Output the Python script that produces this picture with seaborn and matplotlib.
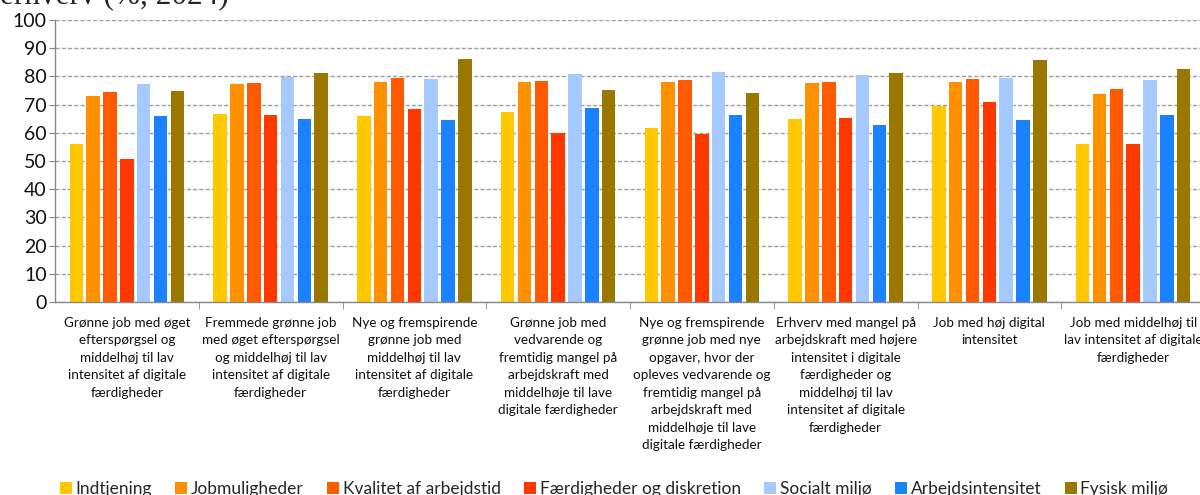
import pandas as pd
import matplotlib
matplotlib.use("Agg")
import matplotlib.pyplot as plt
import seaborn as sns

# Kategorier (erhverv)
categories = [
    "Grønne job med øget\nefterspørgsel og\nmiddelhøj til lav\nintensitet af digitale\nfærdigheder",
    "Fremmede grønne job\nmed øget efterspørgsel\nog middelhøj til lav\nintensitet af digitale\nfærdigheder",
    "Nye og fremspirende\ngrønne job med\nmiddelhøj til lav\nintensitet af digitale\nfærdigheder",
    "Grønne job med\nvedvarende og\nfremtidig mangel på\narbejdskraft med\nmiddelhøje til lave\ndigitale færdigheder",
    "Nye og fremspirende\ngrønne job med nye\nopgaver, hvor der\nopleves vedvarende og\nfremtidig mangel på\narbejdskraft med\nmiddelhøje til lave\ndigitale færdigheder",
    "Erhverv med mangel på\narbejdskraft med højere\nintensitet i digitale\nfærdigheder og\nmiddelhøj til lav\nintensitet af digitale\nfærdigheder",
    "Job med høj digital\nintensitet",
    "Job med middelhøj til\nlav intensitet af digitale\nfærdigheder",
]

# Serier
indtjening = [56.1, 66.6, 65.8, 67.3, 61.6, 65.0, 69.6, 56.2]
jobmuligheder = [73.0, 77.4, 78.1, 78.0, 78.1, 77.5, 78.1, 73.9]
kvalitet = [74.6, 77.8, 79.3, 78.5, 78.6, 77.9, 79.1, 75.4]
faerdigheder = [50.7, 66.4, 68.3, 59.9, 59.5, 65.4, 70.9, 56.1]
socialt = [77.4, 79.8, 79.1, 80.7, 81.7, 80.4, 79.3, 78.8]
arbejdsintensitet = [65.8, 64.9, 64.7, 68.8, 66.4, 62.7, 64.6, 66.4]
fysisk = [74.8, 81.1, 86.1, 75.2, 74.1, 81.2, 85.8, 82.5]

series_names = ["Indtjening", "Jobmuligheder", "Kvalitet af arbejdstid",
                "Færdigheder og diskretion", "Socialt miljø",
                "Arbejdsintensitet", "Fysisk miljø"]
series_values = [indtjening, jobmuligheder, kvalitet, faerdigheder,
                 socialt, arbejdsintensitet, fysisk]
colors = ["#FFC800", "#FF9000", "#FF5A00", "#FF3800",
          "#A6CAFF", "#1A82FF", "#9A7800"]

rows = []
for name, vals in zip(series_names, series_values):
    for cat, v in zip(categories, vals):
        rows.append({"Erhverv": cat, "Serie": name, "Andel": v})
df = pd.DataFrame(rows)

sns.set_style("white")
plt.rcParams["font.family"] = ["Lato", "DejaVu Sans"]

fig = plt.figure(figsize=(12, 4.95), dpi=100)
ax = fig.add_axes([55 / 1200, 1 - 302 / 495, 1150 / 1200, 282 / 495])

sns.barplot(data=df, x="Erhverv", y="Andel", hue="Serie",
            hue_order=series_names, order=categories,
            palette=colors, width=0.82, gap=0.2, linewidth=0,
            saturation=1, ax=ax)

ax.set_xlim(-0.5, 7.5)
ax.set_ylim(0, 100)
ax.set_yticks(range(0, 101, 10))
ax.set_xlabel("")
ax.set_ylabel("")

ax.grid(axis="y", color="#a0a0a0", linestyle=(0, (3, 1.5)), linewidth=1)
ax.set_axisbelow(True)
for side in ["top", "right"]:
    ax.spines[side].set_visible(False)
for side in ["left", "bottom"]:
    ax.spines[side].set_color("#888888")
    ax.spines[side].set_linewidth(1)

ax.tick_params(axis="y", labelsize=14, length=4, color="#888888",
               left=True, pad=2, labelcolor="#111111")
ax.tick_params(axis="x", which="major", length=0, pad=10.5,
               labelsize=9.7, labelcolor="#111111")
ax.set_xticks([i - 0.5 for i in range(1, 8)], minor=True)
ax.tick_params(axis="x", which="minor", length=5, color="#888888",
               bottom=True)
for lbl in ax.get_xticklabels():
    lbl.set_linespacing(1.55)
    lbl.set_verticalalignment("top")

leg = ax.legend(loc="center", bbox_to_anchor=(614 / 1200, 1 - 489 / 495),
                bbox_transform=fig.transFigure, ncol=7, frameon=False,
                fontsize=12.5, handlelength=0.7, handleheight=0.7,
                handletextpad=0.2, columnspacing=1.35, borderaxespad=0,
                borderpad=0)

fig.text(0.0, 1 - 3 / 495, "erhverv (%, 2024)", family="Liberation Serif",
         fontsize=22.5, ha="left", va="baseline")

fig.savefig("out.png", dpi=100)
